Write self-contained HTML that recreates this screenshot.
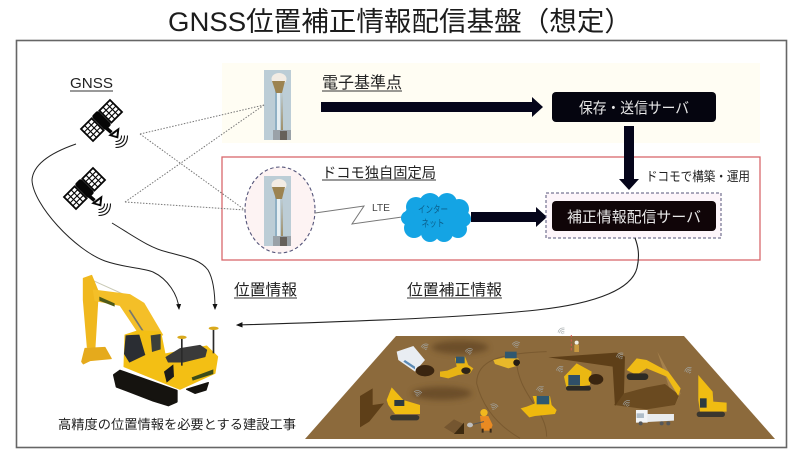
<!DOCTYPE html>
<html lang="ja">
<head>
<meta charset="utf-8">
<style>
html,body{margin:0;padding:0;background:#fff;width:800px;height:457px;overflow:hidden}
svg{display:block;filter:blur(0.3px)}
text{font-family:"Liberation Sans","Noto Sans CJK JP",sans-serif;fill:#222}
</style>
</head>
<body>
<svg width="800" height="457" viewBox="0 0 800 457" xmlns="http://www.w3.org/2000/svg">
<defs>
<filter id="b2" x="-30%" y="-60%" width="160%" height="220%"><feGaussianBlur stdDeviation="9"/></filter>
<g id="pole">
  <rect x="0" y="0" width="27" height="70" fill="#bccdd6"/>
  <rect x="13" y="18" width="3" height="44" fill="#e6eff3"/>
  <rect x="11" y="20" width="2" height="42" fill="#8fb0c4"/>
  <path d="M18,22L17,60H19z" fill="#a08f68"/>
  <ellipse cx="15" cy="9" rx="7.500" ry="6" fill="#f3ece4"/>
  <polygon points="12,23 8,11 21,11 18,23" fill="#9c8350"/>
  <rect x="9" y="60" width="18" height="10" fill="#9aa2a8"/>
  <rect x="16" y="61" width="7" height="9" fill="#66605a"/>
</g>
<g id="sat">
  <g transform="rotate(-45)">
    <rect x="-4.500" y="-10" width="9" height="20" rx="2.500" fill="#060606"/>
    <g fill="#fff" stroke="#060606" stroke-width="1.800">
      <rect x="-20.500" y="-8.500" width="15" height="17"/>
      <rect x="5.500" y="-8.500" width="15" height="17"/>
      <path d="M-20.500,-4H-5.500M-20.500,0H-5.500M-20.500,4H-5.500M-15.500,-8.500V8.500M-10.500,-8.500V8.500M5.500,-4H20.500M5.500,0H20.500M5.500,4H20.500M10.500,-8.500V8.500M15.500,-8.500V8.500" fill="none" stroke-width="1.100"/>
    </g>
  </g>
  <path d="M3,6L10,12" stroke="#060606" stroke-width="3.500"/>
  <polygon points="6.700,15 18,6.700 16.700,18" fill="#060606"/>
  <polygon points="11,14.500 15.500,11 15,15.500" fill="#fff"/>
  <g fill="none" stroke="#111" stroke-width="1.100">
    <path d="M20,15Q20,21 14,21"/>
    <path d="M23,15Q23,24 14,24"/>
    <path d="M26,15Q26,27 14,27"/>
  </g>
</g>
<marker id="ah" markerWidth="6" markerHeight="6" refX="5" refY="3" orient="auto"><path d="M0,0.500L6,3L0,5.500z" fill="#111"/></marker>
<g id="wifi" fill="none" stroke="#a4aaab" stroke-width="1.800">
  <path d="M-6,-3Q0,-10 6,-3"/><path d="M-9,-7Q0,-16 9,-7"/><path d="M-12,-11Q0,-22 12,-11"/><path d="M-3,1Q0,-3 3,1"/>
</g>
</defs>

<text x="400" y="31" font-size="27" text-anchor="middle" textLength="464" lengthAdjust="spacingAndGlyphs" style="fill:#1c1c1c">GNSS位置補正情報配信基盤（想定）</text>

<rect x="16.500" y="40.500" width="770" height="407" fill="#fff" stroke="#666" stroke-width="1.600"/>

<rect x="222" y="63" width="538" height="80" fill="#fffdf3"/>
<rect x="222" y="157" width="538" height="103" fill="#fff" stroke="#d8686c" stroke-width="1.300"/>

<ellipse cx="280" cy="210" rx="35" ry="43" fill="#fdf3f3" stroke="#55557a" stroke-width="1.100" stroke-dasharray="3.500 2.500"/>
<use href="#pole" x="264" y="70"/>
<use href="#pole" x="264" y="176"/>

<g fill="none" stroke="#777" stroke-width="1" stroke-dasharray="1.500 1.500">
  <path d="M140,134L264,105"/><path d="M140,134L245,210"/>
  <path d="M125,202L264,105"/><path d="M125,202L245,210"/>
</g>

<use href="#sat" x="101.500" y="120.500"/>
<use href="#sat" x="84.500" y="188.500"/>

<text x="70" y="88" font-size="15" textLength="43" lengthAdjust="spacingAndGlyphs">GNSS</text>
<rect x="70" y="90.500" width="43" height="1" fill="#333"/>

<text x="322" y="88" font-size="16" textLength="80" lengthAdjust="spacingAndGlyphs">電子基準点</text>
<rect x="322" y="90.500" width="80" height="1" fill="#333"/>
<text x="322" y="178" font-size="14.500" textLength="114" lengthAdjust="spacingAndGlyphs">ドコモ独自固定局</text>
<rect x="322" y="179.500" width="114" height="1" fill="#333"/>

<polygon points="321,102 532,102 532,97 543,107 532,117 532,112 321,112" fill="#05051a"/>
<polygon points="624,126 634,126 634,179 639,179 629,190 619,179 624,179" fill="#05051a"/>
<polygon points="471,212 536,212 536,207 547,217 536,227 536,222 471,222" fill="#05051a"/>

<rect x="552" y="92" width="164" height="30" rx="4" fill="#05050f"/>
<text x="634" y="113" font-size="15" text-anchor="middle" textLength="110" lengthAdjust="spacingAndGlyphs" style="fill:#e8e8e8">保存・送信サーバ</text>

<rect x="546" y="193" width="175" height="45" fill="#fdf5fa" stroke="#55557a" stroke-width="1" stroke-dasharray="3 2"/>
<rect x="552" y="201" width="164" height="30" rx="4" fill="#100508"/>
<text x="634" y="222" font-size="15" text-anchor="middle" textLength="134" lengthAdjust="spacingAndGlyphs" style="fill:#e8e8e8">補正情報配信サーバ</text>

<text x="646" y="181" font-size="13" textLength="104" lengthAdjust="spacingAndGlyphs">ドコモで構築・運用</text>

<path d="M315,213L364,206L352,224L402,217" fill="none" stroke="#777" stroke-width="1"/>
<text x="372" y="211" font-size="10" textLength="18" lengthAdjust="spacingAndGlyphs" style="fill:#444">LTE</text>

<g fill="#14a4e4">
  <ellipse cx="436" cy="218" rx="33" ry="18"/>
  <circle cx="416" cy="207" r="10"/><circle cx="430" cy="204" r="11"/><circle cx="447" cy="203" r="10"/><circle cx="459" cy="209" r="10"/>
  <circle cx="463" cy="219" r="8"/><circle cx="458" cy="229" r="9"/><circle cx="444" cy="233" r="9"/><circle cx="430" cy="233" r="9"/>
  <circle cx="414" cy="228" r="10"/><circle cx="408" cy="218" r="7"/>
</g>
<text x="433" y="213" font-size="10" text-anchor="middle" textLength="30" lengthAdjust="spacingAndGlyphs" style="fill:#0b5f8c">インター</text>
<text x="433" y="227" font-size="10" text-anchor="middle" textLength="23" lengthAdjust="spacingAndGlyphs" style="fill:#0b5f8c">ネット</text>

<g fill="none" stroke="#222" stroke-width="1">
  <path d="M76,144C50,153 33,165 32,180C33,205 75,250 105,261C125,268 145,268 153,272C168,279 178,295 179,309" marker-end="url(#ah)"/>
  <path d="M112,223C135,237 150,248 167,252C185,257 200,259 208,270C214,280 215,295 215,309" marker-end="url(#ah)"/>
  <path d="M635,238C638,246 640,255 637,268C632,288 600,303 537,310C460,318 340,322 237,325" marker-end="url(#ah)" stroke-width="1.100"/>
</g>

<text x="234" y="295" font-size="15.500" textLength="63" lengthAdjust="spacingAndGlyphs">位置情報</text>
<rect x="234" y="297.500" width="63" height="1" fill="#333"/>
<text x="407" y="295" font-size="15.500" textLength="95" lengthAdjust="spacingAndGlyphs">位置補正情報</text>
<rect x="407" y="297.500" width="95" height="1" fill="#333"/>
<text x="58" y="429" font-size="13" textLength="238" lengthAdjust="spacingAndGlyphs">高精度の位置情報を必要とする建設工事</text>

<!-- excavator -->
<g transform="translate(40,260) scale(0.3333)" stroke-linejoin="round">
  <path d="M160,62L262,108" stroke="#c9c9b5" stroke-width="3"/>
  <polygon points="130,55 155,46 175,95 165,262 142,262 130,120" fill="#f0b81e" stroke="#f0b81e" stroke-width="3"/>
  <polygon points="160,90 270,104 312,130 368,225 295,218 240,136 165,122" fill="#f4bf28" stroke="#f4bf28" stroke-width="3"/>
  <path d="M268,150L310,215" stroke="#77776e" stroke-width="5"/>
  <polygon points="125,305 135,265 195,262 214,296 150,302 130,312" fill="#e5aa1c" stroke="#e5aa1c" stroke-width="3"/>
  <polygon points="222,345 240,332 410,392 410,425 385,436 340,422 230,380" fill="#15130f" stroke="#15130f" stroke-width="6"/>
  <polygon points="440,388 505,368 498,390 465,400" fill="#15130f" stroke="#15130f" stroke-width="4"/>
  <polygon points="252,320 255,225 295,212 362,216 375,282 500,258 533,290 525,340 420,388 375,370" fill="#f3bf14" stroke="#f3bf14" stroke-width="3"/>
  <polygon points="257,226 298,224 316,285 268,308 252,282" fill="#2a2d33"/>
  <polygon points="332,226 362,222 362,268 336,276" fill="#3b3f3a"/>
  <polygon points="378,292 420,266 480,256 500,270 495,290 430,306 385,306" fill="#3a3a3a" stroke="#3a3a3a" stroke-width="3"/>
  <polygon points="372,335 400,313 402,350 380,368" fill="#1a1a1a"/>
  <polygon points="455,352 520,328 520,342 458,362" fill="#3c4c1a"/>
  <rect x="423" y="232" width="5" height="85" fill="#2a2a2a"/>
  <rect x="518" y="208" width="5" height="72" fill="#2a2a2a"/>
  <ellipse cx="426" cy="232" rx="14" ry="5" fill="#d9a91c"/>
  <ellipse cx="521" cy="205" rx="15" ry="5" fill="#d9a91c"/>
  <polygon points="178,110 224,130 224,140 178,122" fill="#4f5a18"/>
</g>

<!-- construction site -->
<polygon points="396,336 684,336 775,439 305,439" fill="#8c6a3c"/>
<g transform="translate(360,310) scale(0.3333)" stroke-linejoin="round">
  <ellipse cx="300" cy="112" rx="85" ry="20" fill="#5e4220" filter="url(#b2)" opacity=".7"/>
  <ellipse cx="245" cy="250" rx="90" ry="20" fill="#5e4220" filter="url(#b2)" opacity=".7"/>
  <path d="M350,220C350,150 420,130 560,125M470,160C480,260 560,300 560,380M350,220C370,300 420,350 480,385" fill="none" stroke="#7a5a30" stroke-width="3"/>
  <polygon points="0,258 38,235 38,285 72,280 28,335 0,352" fill="#5e3f18"/>
  <polygon points="892,125 962,250 945,285 925,225" fill="#a5814c"/>
  <polygon points="792,250 860,232 915,222 958,255 945,285 860,298 762,285" fill="#6a4a20"/>
  <polygon points="565,142 770,128 795,140 792,250 765,288 758,170" fill="#5e3f18"/>
  <polygon points="252,352 282,328 310,342 285,372" fill="#755630"/>
  <polygon points="282,372 312,338 312,372" fill="#3d2a10"/>

  <polygon points="110,125 160,108 195,150 165,185 115,150" fill="#e9edf2"/>
  <polygon points="135,150 165,170 165,178 130,155" fill="#5b8ab5"/>
  <ellipse cx="195" cy="182" rx="28" ry="17" fill="#3a2510"/>

  <polygon points="240,185 262,182 290,170 285,145 315,140 325,165 340,175 330,190 295,195 265,205 240,200" fill="#e8b414"/>
  <ellipse cx="318" cy="182" rx="14" ry="10" fill="#2d2418"/>
  <rect x="288" y="140" width="26" height="20" fill="#2f5870"/>

  <polygon points="400,150 430,143 475,145 480,165 445,175 405,162" fill="#e8b82a"/>
  <rect x="435" y="125" width="35" height="20" fill="#2f5870"/>
  <circle cx="470" cy="158" r="10" fill="#241c14"/>

  <polygon points="85,285 80,270 95,232 130,270 180,285 180,312 105,312" fill="#f0bc12"/>
  <rect x="90" y="315" width="88" height="16" rx="8" fill="#39362f"/>
  <rect x="103" y="270" width="30" height="18" fill="#2d3a40"/>

  <polygon points="482,295 500,290 525,280 518,258 570,258 575,285 590,300 585,312 525,318 508,322" fill="#efb90e"/>
  <rect x="530" y="258" width="38" height="25" fill="#2f5870"/>

  <polygon points="612,200 650,160 695,185 690,225 620,235" fill="#eab812"/>
  <rect x="625" y="195" width="35" height="32" fill="#2f4f68"/>
  <ellipse cx="708" cy="208" rx="22" ry="16" fill="#3a2510"/>
  <rect x="618" y="228" width="75" height="14" rx="7" fill="#2d2a24"/>

  <polygon points="800,180 830,145 860,150 925,185 962,235 955,258 920,200 860,175 830,195" fill="#efbb16"/>
  <rect x="800" y="190" width="65" height="20" rx="10" fill="#2d2a24"/>

  <polygon points="1015,270 1015,195 1058,245 1060,275 1100,278 1100,305 1020,305" fill="#f0bc12"/>
  <rect x="1020" y="265" width="20" height="28" fill="#2d3a40"/>
  <rect x="1010" y="305" width="85" height="16" rx="8" fill="#39362f"/>

  <rect x="828" y="300" width="35" height="38" fill="#f2f4f6"/>
  <polygon points="862,312 942,312 942,332 862,336" fill="#e9ecef"/>
  <rect x="830" y="310" width="22" height="14" fill="#aebcc8"/>
  <circle cx="842" cy="340" r="6" fill="#55585a"/><circle cx="905" cy="340" r="6" fill="#55585a"/><circle cx="925" cy="340" r="6" fill="#55585a"/>

  <polygon points="360,318 385,318 398,345 392,362 365,362" fill="#e98a22"/>
  <circle cx="372" cy="308" r="11" fill="#f1b81e"/>
  <path d="M368,368v-12M392,368v-12" stroke="#3a2a1a" stroke-width="6"/>
  <path d="M372,335L330,345" stroke="#555" stroke-width="3"/>
  <ellipse cx="330" cy="345" rx="9" ry="7" fill="#bfbfbf"/>

  <path d="M634,75V125" stroke="#d5584e" stroke-width="3" stroke-dasharray="7 6"/>
  <circle cx="650" cy="98" r="6" fill="#f2efe5"/>
  <rect x="643" y="104" width="14" height="22" fill="#c99a40"/>

  <use href="#wifi" transform="translate(198,118) rotate(-20)"/>
  <use href="#wifi" transform="translate(330,132) rotate(-15)"/>
  <use href="#wifi" transform="translate(470,112) rotate(-10)"/>
  <use href="#wifi" transform="translate(610,70) rotate(-35)"/>
  <use href="#wifi" transform="translate(605,185) rotate(-30)"/>
  <use href="#wifi" transform="translate(785,145) rotate(-30)"/>
  <use href="#wifi" transform="translate(990,188) rotate(-30)"/>
  <use href="#wifi" transform="translate(172,258) rotate(10)"/>
  <use href="#wifi" transform="translate(545,245) rotate(-25)"/>
  <use href="#wifi" transform="translate(400,298) rotate(15)"/>
  <use href="#wifi" transform="translate(805,288) rotate(-30)"/>
</g>
</svg>
</body>
</html>
